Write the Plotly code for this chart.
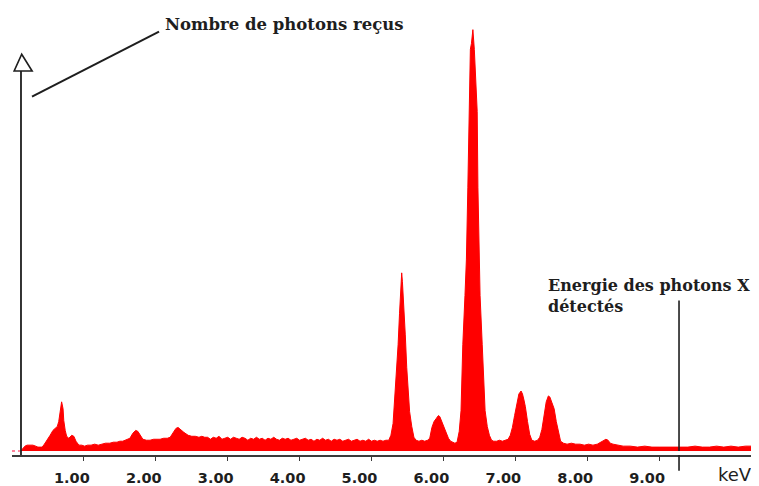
import plotly.graph_objects as go

# ---- data (energy in keV, counts in arbitrary units) ----
energy_keV = [
    0.12, 0.15, 0.18, 0.21, 0.25, 0.29, 0.33, 0.36, 0.39, 0.42, 0.45, 0.49, 0.53,
    0.57, 0.60, 0.63, 0.65, 0.67, 0.69, 0.71, 0.72, 0.74, 0.76, 0.79, 0.83, 0.86,
    0.89, 0.93, 0.97, 1.01, 1.05, 1.10, 1.15, 1.20, 1.25, 1.30, 1.36, 1.41, 1.46,
    1.50, 1.54, 1.58, 1.61, 1.64, 1.68, 1.72, 1.75, 1.78, 1.82, 1.87, 1.92, 1.97,
    2.02, 2.06, 2.11, 2.16, 2.20, 2.24, 2.28, 2.31, 2.35, 2.39, 2.45, 2.50, 2.55,
    2.60, 2.64, 2.68,
    2.72, 2.76, 2.80, 2.84, 2.88, 2.92, 2.96, 3.00, 3.04, 3.08, 3.12, 3.16, 3.20,
    3.24, 3.28, 3.32, 3.36, 3.40, 3.44, 3.48, 3.52, 3.56, 3.60, 3.64, 3.68, 3.72,
    3.76, 3.80, 3.84, 3.88, 3.92, 3.96, 4.00, 4.04, 4.08, 4.12, 4.16, 4.20, 4.24,
    4.28, 4.32, 4.36, 4.40, 4.44, 4.48, 4.52, 4.56, 4.60, 4.64, 4.68, 4.72, 4.76,
    4.80, 4.84, 4.88, 4.92, 4.96, 5.00, 5.04, 5.08, 5.12, 5.16, 5.20, 5.24,
    5.27, 5.30, 5.33, 5.35, 5.37, 5.39, 5.41, 5.42, 5.43, 5.45, 5.47, 5.49, 5.51,
    5.53, 5.56, 5.59, 5.62, 5.66, 5.70, 5.74, 5.78, 5.81, 5.84, 5.87, 5.90, 5.93,
    5.95, 5.98, 6.01, 6.04, 6.07, 6.10, 6.13, 6.16, 6.19, 6.22, 6.245, 6.27, 6.30,
    6.32, 6.34, 6.36, 6.375, 6.39, 6.41, 6.43, 6.45, 6.47, 6.48, 6.50, 6.51, 6.54,
    6.56, 6.58, 6.61, 6.64, 6.67, 6.70, 6.74, 6.78, 6.82, 6.86, 6.90, 6.93, 6.96,
    6.99, 7.02, 7.05, 7.08, 7.10, 7.12, 7.14, 7.17, 7.20, 7.23, 7.27, 7.31, 7.34,
    7.37, 7.40, 7.43, 7.46, 7.48, 7.51, 7.54, 7.57, 7.60, 7.63, 7.67, 7.72, 7.78,
    7.84, 7.90, 7.96, 8.02, 8.08, 8.14, 8.19, 8.23, 8.26, 8.29, 8.32, 8.36, 8.42,
    8.50, 8.60, 8.70, 8.80, 8.90, 9.00, 9.10, 9.20, 9.30, 9.40, 9.50, 9.60, 9.70,
    9.80, 9.90, 10.00, 10.10, 10.20, 10.30, 10.40,
]
counts = [
    0, 3, 5, 6, 6, 6, 5, 4, 4, 4, 7, 11, 16,
    21, 23, 25, 30, 41, 50, 43, 31, 21, 15, 13, 16, 15,
    10, 6, 6, 5, 6, 6, 7, 6, 7, 8, 8, 9, 9,
    10, 10, 11, 12, 13, 18, 21, 20, 16, 12, 11, 11, 12,
    12, 12, 13, 13, 14, 18, 23, 24, 21, 19, 16, 15, 15,
    14, 15, 14,
    14, 12, 14, 13, 15, 12, 13, 14, 12, 14, 13, 12, 14,
    13, 11, 13, 12, 14, 12, 13, 11, 13, 12, 14, 12, 11,
    13, 12, 13, 11, 12, 13, 11, 12, 13, 11, 12, 10, 12,
    11, 13, 11, 12, 10, 12, 11, 12, 10, 11, 12, 10, 11,
    12, 10, 11, 10, 12, 10, 11, 10, 11, 10, 11, 11,
    16, 28, 58, 85, 108, 140, 165, 181, 172, 150, 118, 85, 58,
    40, 25, 14, 11, 10, 11, 10, 11, 13, 24, 30, 33, 36,
    35, 29, 24, 19, 13, 10, 9, 8, 9, 20, 41, 108, 158,
    195, 268, 345, 408, 414, 428, 408, 368, 345, 268, 208, 158, 108,
    70, 41, 25, 16, 11, 10, 10, 11, 10, 11, 12, 16, 24,
    36, 48, 58, 61, 58, 52, 45, 30, 17, 11, 10, 11, 14,
    22, 38, 50, 56, 55, 49, 43, 30, 18, 10, 8, 7, 8,
    7, 7, 6, 7, 6, 7, 9, 11, 12, 11, 8, 7, 6,
    5, 5, 4, 5, 4, 4, 4, 4, 4, 4, 5, 4, 4,
    5, 4, 5, 4, 5, 5, 5,
]
tick_values = [1, 2, 3, 4, 5, 6, 7, 8, 9]
tick_labels = ["1.00", "2.00", "3.00", "4.00", "5.00", "6.00", "7.00", "8.00", "9.00"]
y_title = "Nombre de photons reçus"
x_title = "Energie des photons X<br>détectés"
unit_label = "keV"
marker_energy = 9.277   # energy of the vertical marker line

INK = "#1e1e1e"
SERIF = "DejaVu Serif"

fig = go.Figure()
fig.add_trace(go.Scatter(
    x=energy_keV, y=counts, mode="lines", fill="tozeroy",
    line=dict(color="#ff0000", width=1), fillcolor="#ff0000",
    hoverinfo="skip", showlegend=False,
))

# the page body adds an 8px margin, so the figure is 8px smaller than the window
X_MAX = 747 / 71.9
fig.update_layout(
    width=751, height=478,
    margin=dict(l=4, r=0, t=0, b=24),
    paper_bgcolor="white", plot_bgcolor="white",
    xaxis=dict(
        range=[0, X_MAX], showgrid=False, zeroline=False,
        showline=True, linecolor="#3a3a3a", linewidth=1.5,
        ticks="outside", ticklen=4, tickwidth=1.2, tickcolor="#3a3a3a",
        tickvals=tick_values, ticktext=tick_labels,
        ticklabelshift=-12, ticklabelstandoff=5,
        tickfont=dict(family="DejaVu Sans", size=14.5, color=INK, weight="bold"),
    ),
    yaxis=dict(range=[-4, 450], visible=False, showgrid=False, zeroline=False),
)

# vertical axis with hollow arrow head
fig.add_shape(type="line", x0=0.125, x1=0.125, y0=-4, y1=386,
              line=dict(color=INK, width=1.8))
fig.add_shape(type="path", path="M 0.03 386 L 0.28 386 L 0.135 403 Z",
              line=dict(color=INK, width=1.6), fillcolor="white")
# small pink tick at the origin
fig.add_shape(type="line", x0=0.0, x1=0.11, y0=0, y1=0,
              line=dict(color="#ff5a7a", width=1.5, dash="dot"))

# pointer line to the y title
fig.add_shape(type="line", x0=0.278, y0=360, x1=2.045, y1=426,
              line=dict(color=INK, width=2))
fig.add_annotation(x=(163 - 12) / 71.9, y=433, xanchor="left", yanchor="middle",
                   text=y_title, showarrow=False,
                   font=dict(family=SERIF, size=16.5, color=INK, weight="bold"))

# marker line for the x title
fig.add_shape(type="line", x0=marker_energy, x1=marker_energy, y0=153, y1=0,
              line=dict(color=INK, width=1.6))
fig.add_shape(type="line", x0=marker_energy, x1=marker_energy, y0=0, y1=-0.035,
              yref="paper", line=dict(color=INK, width=1.6))
fig.add_annotation(x=(546 - 12) / 71.9, y=158, xanchor="left", yanchor="middle",
                   text=x_title, showarrow=False, align="left",
                   font=dict(family=SERIF, size=16, color=INK, weight="bold"))

fig.add_annotation(x=(735 - 12) / 71.9, y=0, yref="paper", yshift=-19,
                   xanchor="center", yanchor="middle",
                   text=unit_label, showarrow=False,
                   font=dict(family="DejaVu Sans", size=18, color=INK))

fig.write_html("out.html")
